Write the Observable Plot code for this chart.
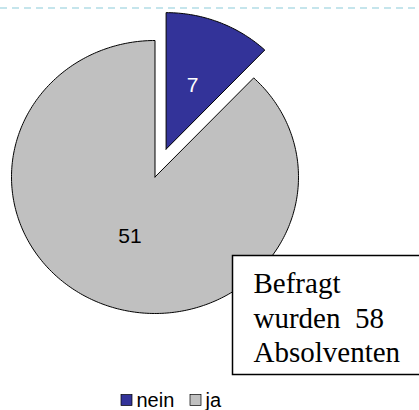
<!DOCTYPE html>
<html><head><meta charset="utf-8">
<script src="https://cdn.jsdelivr.net/npm/d3@7"></script>
<script src="https://cdn.jsdelivr.net/npm/@observablehq/plot@0.6"></script>
<style>
html,body{margin:0;padding:0;background:#fff;overflow:hidden;}
svg text{white-space:pre;}
</style></head><body>
<div id="chart"></div>
<script>
const categories = ["nein", "ja"];
const values = [7, 51];
const colors = ["#333399", "#c0c0c0"];
const noteLines = ["Befragt", "wurden  58", "Absolventen"];

const W = 419, H = 410;
const cx = 154.5, cy = 176.5, rx = 143.5, ry = 136.5;
const explode = [30, 0];
const labelFrac = [0.5, 0.47];
const labelColors = ["#ffffff", "#000000"];

const arcs = d3.pie().sort(null).value(d => d)(values);
const slices = arcs.map((a, i) => {
  const mid = (a.startAngle + a.endAngle) / 2;
  const ox = cx + explode[i] * Math.sin(mid);
  const oy = cy - explode[i] * Math.cos(mid);
  const n = Math.max(8, Math.ceil((a.endAngle - a.startAngle) / (2 * Math.PI) * 360));
  const pts = [{x: ox, y: oy}];
  for (let k = 0; k <= n; k++) {
    const t = a.startAngle + (a.endAngle - a.startAngle) * k / n;
    pts.push({x: ox + rx * Math.sin(t), y: oy - ry * Math.cos(t)});
  }
  pts.push({x: ox, y: oy});
  return {
    category: categories[i], value: values[i], color: colors[i], pts,
    lx: ox + labelFrac[i] * rx * Math.sin(mid),
    ly: oy - labelFrac[i] * ry * Math.cos(mid),
    labelColor: labelColors[i]
  };
});

const legend = categories.map((c, i) => ({c, i, color: colors[i]}));
const legX0 = 121, legStep = 69, legSq = 11;

const marks = [
  Plot.ruleY([7.5], {stroke: "#b3dde6", strokeWidth: 1.3, strokeDasharray: "7,5"}),
  ...slices.map(s => Plot.line(s.pts, {
    x: "x", y: "y", fill: s.color, stroke: "#000", strokeWidth: 1,
    strokeLinejoin: "miter", curve: "linear"
  })),
  Plot.text(slices, {
    x: "lx", y: "ly", text: d => String(d.value), fill: "labelColor",
    fontSize: 21, fontFamily: "'Liberation Sans', Arial, sans-serif",
    textAnchor: "middle", lineAnchor: "middle"
  }),
  Plot.rect([0], {
    x1: () => 232.5, x2: () => W + 2, y1: () => 255.5, y2: () => 374.5,
    fill: "#fff", stroke: "#000", strokeWidth: 1.5
  }),
  Plot.text([noteLines.join("\n")], {
    x: () => 253, y: () => 361.5, text: d => d,
    textAnchor: "start", lineAnchor: "bottom", lineHeight: 1.19,
    fontSize: 29, fontFamily: "'Liberation Serif', 'Times New Roman', serif", fill: "#000"
  }),
  Plot.rect(legend, {
    x1: d => legX0 + d.i * legStep, x2: d => legX0 + d.i * legStep + legSq,
    y1: () => 394.5, y2: () => 394.5 + legSq,
    fill: "color", stroke: "#000", strokeWidth: 0.7
  }),
  Plot.text(legend, {
    x: d => legX0 + d.i * legStep + legSq + 4, y: () => 406.5, text: "c",
    textAnchor: "start", lineAnchor: "bottom",
    fontSize: 20, fontFamily: "'Liberation Sans', Arial, sans-serif", fill: "#000"
  })
];

const chart = Plot.plot({
  width: W, height: H, margin: 0,
  x: {domain: [0, W], range: [0, W], axis: null},
  y: {domain: [0, H], range: [0, H], axis: null},
  color: {type: "identity"},
  style: {background: "#fff"},
  marks
});
document.getElementById("chart").appendChild(chart);
</script>
</body></html>
